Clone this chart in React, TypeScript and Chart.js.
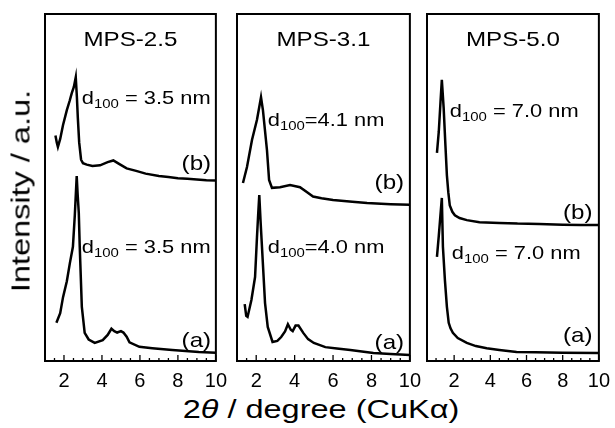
import React, { useEffect, useRef } from "react";
import { Chart, registerables } from "chart.js";
Chart.register(...registerables);

const FONT = "'Liberation Sans', Arial, Helvetica, sans-serif";
const SX = 1.15; // horizontal stretch of text seen in the reference

// ---------- data (2θ in degrees, intensity in arbitrary units) ----------
// MPS-2.5
const p1TwoThetaB = [1.55, 1.62, 1.68, 1.8, 1.95, 2.15, 2.3, 2.41, 2.52, 2.62, 2.68, 2.73, 2.8, 2.9, 3.0, 3.2, 3.5, 3.9, 4.3, 4.6, 4.9, 5.3, 5.8, 6.3, 7.0, 7.5, 8.0, 8.5, 9.0, 9.5, 10];
const p1IntensityB = [65, 63, 61.7, 64, 68, 72.3, 75, 77.2, 79, 81.8, 76, 70, 63, 58, 57, 56.6, 56.2, 56.4, 57.3, 57.8, 56.8, 55.5, 54.8, 54, 53.3, 53, 52.7, 52.5, 52.3, 52.1, 52];
const p1TwoThetaA = [1.6, 1.8, 1.95, 2.15, 2.31, 2.47, 2.57, 2.67, 2.72, 2.78, 2.83, 2.94, 3.09, 3.3, 3.62, 4.04, 4.3, 4.5, 4.65, 4.8, 5.0, 5.13, 5.3, 5.45, 5.97, 6.65, 7.7, 9.1, 10];
const p1IntensityA = [11, 13.8, 18.4, 23, 28.2, 32.9, 42, 53.3, 48, 42.6, 32.9, 15.6, 8.1, 6.2, 5.2, 6, 7.5, 9.3, 8.6, 8.2, 8.6, 8.2, 7, 5.4, 4.1, 3.7, 3.2, 2.6, 2.4];

// MPS-3.1
const p2TwoThetaB = [1.31, 1.52, 1.78, 2.04, 2.25, 2.35, 2.56, 2.67, 2.82, 3.24, 3.76, 4.28, 4.65, 4.96, 5.4, 6.0, 7.0, 7.77, 9.0, 10];
const p2IntensityB = [51.3, 55.9, 63.7, 69.5, 76, 72.3, 60.8, 52.2, 49.9, 50.1, 50.7, 50.1, 48.6, 47.4, 46.9, 46.4, 45.9, 45.5, 45.2, 45];
const p2TwoThetaA = [1.4, 1.48, 1.55, 1.75, 1.94, 2.04, 2.1, 2.16, 2.23, 2.3, 2.46, 2.6, 2.85, 3.1, 3.3, 3.5, 3.65, 3.8, 3.9, 4.05, 4.2, 4.45, 4.7, 5.0, 5.6, 6.2, 6.9, 8.1, 9, 10];
const p2IntensityA = [16.4, 13, 12.7, 17.6, 24.2, 35.7, 42, 47.8, 40, 32.9, 16.7, 9.8, 5.5, 5.8, 6.9, 8.5, 10.6, 9, 8.6, 10.2, 10.2, 8.1, 6.3, 5.2, 4, 3.6, 3.2, 2.3, 2, 1.7];

// MPS-5.0
const p3TwoThetaB = [1.05, 1.15, 1.25, 1.32, 1.42, 1.52, 1.6, 1.68, 1.76, 1.9, 2.04, 2.3, 2.7, 3.4, 4.5, 5.5, 6.7, 8, 9, 10];
const p3IntensityB = [60, 66, 75, 81, 73, 62, 53.5, 48.5, 44.8, 43, 42, 41.2, 40.6, 40, 39.8, 39.6, 39.5, 39.3, 39.2, 39.2];
const p3TwoThetaA = [1.05, 1.15, 1.25, 1.32, 1.38, 1.49, 1.6, 1.7, 1.8, 1.93, 2.2, 2.7, 3.2, 3.8, 4.5, 5.45, 6.5, 8, 10];
const p3IntensityA = [30, 36, 42.5, 47, 32.9, 23.3, 15.6, 11, 9.4, 8.1, 6.6, 5.2, 4.3, 3.7, 3.2, 2.6, 2.5, 2.4, 2.3];

const panelTitles = ["MPS-2.5", "MPS-3.1", "MPS-5.0"];
const xTickLabels = [2, 4, 6, 8, 10];
const dLabelsB = [" = 3.5 nm", "=4.1 nm", " = 7.0 nm"];
const dLabelsA = [" = 3.5 nm", "=4.0 nm", " = 7.0 nm"];

// ---------- layout ----------
const PLOT_TOP = 14;
const PLOT_BOTTOM = 361;
const PANELS = [
  { left: 45, right: 217, xmin: 1, xmax: 10, annB: [2.94, 76], annA: [2.94, 33], labB: [9.75, 57], labA: [9.75, 6] },
  { left: 237, right: 411, xmin: 1, xmax: 10, annB: [2.6, 69.5], annA: [2.6, 33], labB: [9.7, 51.6], labA: [9.7, 5.5] },
  { left: 427, right: 600, xmin: 0.5, xmax: 10, annB: [1.76, 72.3], annA: [1.87, 31.4], labB: [9.65, 43], labA: [9.65, 7.5] },
];
const PADX = 18;
const PADT = 2;
const AXIS_H = 30;

const series = [
  { bx: p1TwoThetaB, by: p1IntensityB, ax: p1TwoThetaA, ay: p1IntensityA },
  { bx: p2TwoThetaB, by: p2IntensityB, ax: p2TwoThetaA, ay: p2IntensityA },
  { bx: p3TwoThetaB, by: p3IntensityB, ax: p3TwoThetaA, ay: p3IntensityA },
];

function stretchedText(ctx: CanvasRenderingContext2D, text: string, x: number, y: number, font: string, align: "left" | "center" | "right") {
  ctx.save();
  ctx.font = font;
  const w = ctx.measureText(text).width * SX;
  let x0 = x;
  if (align === "center") x0 = x - w / 2;
  if (align === "right") x0 = x - w;
  ctx.translate(x0, y);
  ctx.scale(SX, 1);
  ctx.textAlign = "left";
  ctx.textBaseline = "alphabetic";
  ctx.fillText(text, 0, 0);
  ctx.restore();
  return w;
}

function Panel({ idx }: { idx: number }) {
  const ref = useRef<HTMLCanvasElement | null>(null);
  const p = PANELS[idx];
  const s = series[idx];
  const w = p.right - p.left + 2 * PADX;
  const h = PLOT_BOTTOM - PLOT_TOP + PADT + AXIS_H;

  useEffect(() => {
    if (!ref.current) return;
    const framePlugin = {
      id: "frame" + idx,
      afterDraw(chart: any) {
        const { ctx, chartArea } = chart;
        const xs = chart.scales.x;
        const ys = chart.scales.y;
        ctx.save();
        ctx.fillStyle = "#000";
        ctx.strokeStyle = "#000";
        // inward ticks
        ctx.lineWidth = 1.3;
        for (let v = Math.ceil(p.xmin * 2) / 2; v <= p.xmax + 1e-9; v += 0.5) {
          const px = xs.getPixelForValue(v);
          const major = Math.abs(v % 2) < 1e-9;
          const len = major ? 6 : 3;
          ctx.beginPath();
          ctx.moveTo(px, chartArea.bottom);
          ctx.lineTo(px, chartArea.bottom - len);
          ctx.stroke();
        }
        // frame
        ctx.lineWidth = 2;
        ctx.strokeRect(chartArea.left, chartArea.top, chartArea.right - chartArea.left, chartArea.bottom - chartArea.top);
        // title
        const cx = (chartArea.left + chartArea.right) / 2;
        stretchedText(ctx, panelTitles[idx], cx, chartArea.top + 32, `21px ${FONT}`, "center");
        // d100 annotations
        const drawD = (pos: number[], rest: string) => {
          const x = xs.getPixelForValue(pos[0]);
          const y = ys.getPixelForValue(pos[1]) + 6.5;
          let cur = x;
          cur += stretchedText(ctx, "d", cur, y, `19px ${FONT}`, "left");
          cur += stretchedText(ctx, "100", cur, y + 4, `13px ${FONT}`, "left");
          stretchedText(ctx, rest, cur, y, `19px ${FONT}`, "left");
        };
        drawD(p.annB, dLabelsB[idx]);
        drawD(p.annA, dLabelsA[idx]);
        // (a) (b)
        stretchedText(ctx, "(b)", xs.getPixelForValue(p.labB[0]), ys.getPixelForValue(p.labB[1]) + 7, `21px ${FONT}`, "right");
        stretchedText(ctx, "(a)", xs.getPixelForValue(p.labA[0]), ys.getPixelForValue(p.labA[1]) + 7, `21px ${FONT}`, "right");
        ctx.restore();
      },
    };

    const toPts = (xs: number[], ys: number[]) => xs.map((x, i) => ({ x, y: ys[i] }));
    const chart = new Chart(ref.current, {
      type: "line",
      data: {
        datasets: [
          { label: "(b)", data: toPts(s.bx, s.by), borderColor: "#000", borderWidth: 2.5, pointRadius: 0, tension: 0, fill: false },
          { label: "(a)", data: toPts(s.ax, s.ay), borderColor: "#000", borderWidth: 2.5, pointRadius: 0, tension: 0, fill: false },
        ],
      },
      options: {
        animation: false,
        responsive: false,
        layout: { padding: { left: PADX, right: PADX, top: PADT, bottom: 0 } },
        plugins: { legend: { display: false }, tooltip: { enabled: false }, title: { display: false } },
        scales: {
          x: {
            type: "linear",
            min: p.xmin,
            max: p.xmax,
            grid: { display: false, drawTicks: false },
            border: { display: false },
            afterBuildTicks: (scale: any) => {
              scale.ticks = xTickLabels.map((v) => ({ value: v }));
            },
            afterFit: (scale: any) => {
              scale.height = AXIS_H;
            },
            ticks: {
              autoSkip: false,
              maxRotation: 0,
              padding: 8,
              color: "#000",
              font: { family: FONT, size: 20 },
            },
          },
          y: { type: "linear", min: 0, max: 100, display: false },
        },
      },
      plugins: [framePlugin],
    } as any);
    return () => chart.destroy();
  }, [idx]);

  return (
    <canvas
      ref={ref}
      width={w}
      height={h}
      style={{ position: "absolute", left: p.left - PADX, top: PLOT_TOP - PADT, width: w, height: h }}
    />
  );
}

export default function App() {
  return (
    <div style={{ position: "fixed", left: 0, top: 0, width: 615, height: 428, background: "#fff", overflow: "hidden", fontFamily: FONT }}>
      {PANELS.map((_, i) => (
        <Panel key={i} idx={i} />
      ))}
      <div
        style={{
          position: "absolute",
          left: 21,
          top: 191,
          transform: "translate(-50%, -50%) rotate(-90deg) scaleX(1.3)",
          fontSize: 25,
          whiteSpace: "nowrap",
          lineHeight: 1,
          color: "#000",
        }}
      >
        Intensity / a.u.
      </div>
      <div
        style={{
          position: "absolute",
          left: 321,
          top: 409,
          transform: "translate(-50%, -50%) scaleX(1.3)",
          fontSize: 25,
          whiteSpace: "nowrap",
          lineHeight: 1,
          color: "#000",
        }}
      >
        2<i>θ</i> / degree (CuKα)
      </div>
    </div>
  );
}
